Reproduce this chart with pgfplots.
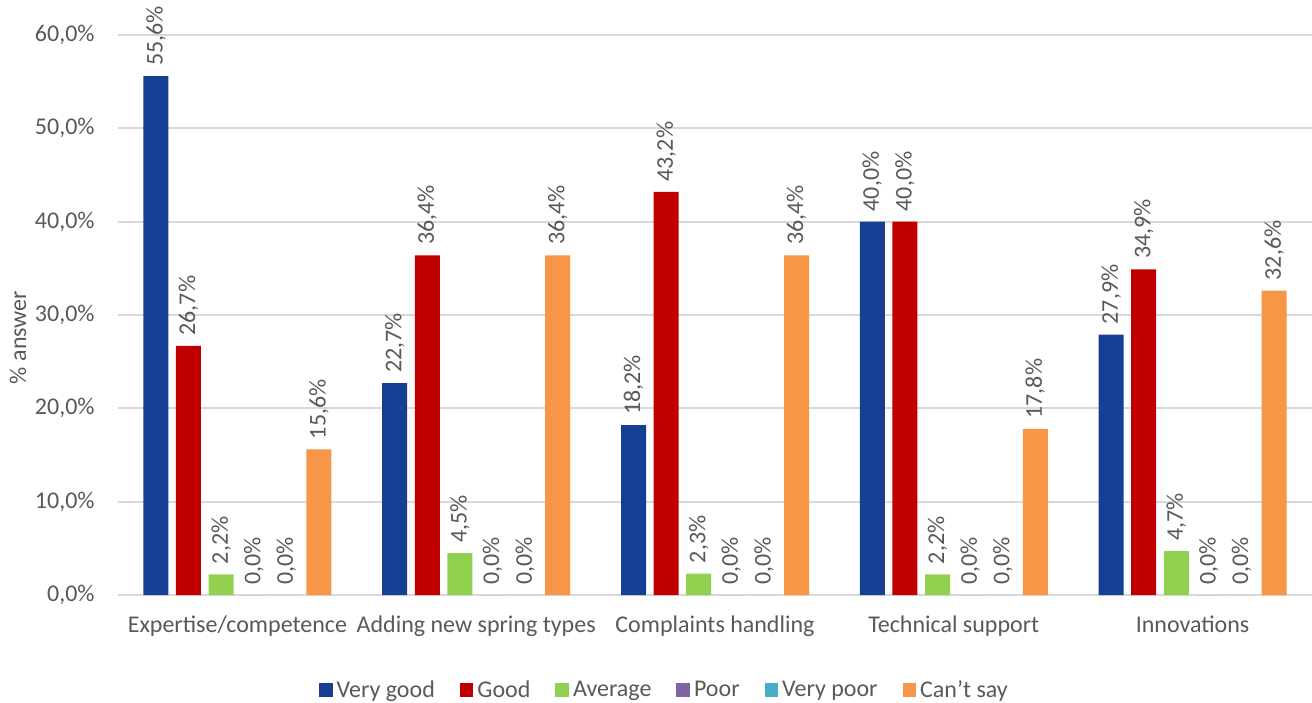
\documentclass[border=0pt]{standalone}
\usepackage{fontspec}
\setmainfont{Carlito}
\usepackage{pgfplots}
\pgfplotsset{compat=1.18}

\definecolor{txt}{HTML}{595959}
\definecolor{gridc}{HTML}{D9D9D9}
\definecolor{vgood}{RGB}{21,63,147}
\definecolor{good}{RGB}{192,0,0}
\definecolor{avg}{RGB}{146,208,80}
\definecolor{poor}{RGB}{128,100,162}
\definecolor{vpoor}{RGB}{75,172,198}
\definecolor{cant}{RGB}{247,150,70}

\newcommand{\pct}[1]{\pgfmathprintnumber[fixed,fixed zerofill,precision=1,use comma]{#1}\%}

\begin{document}
\begin{tikzpicture}
\begin{axis}[
  scale only axis, width=597bp, height=280bp,
  /pgf/number format/assume math mode=true,
  ybar=3.8bp, bar width=12.5bp,
  xmin=-0.5, xmax=4.5, ymin=0, ymax=60,
  xtick={0,...,4},
  xticklabels={Expertise/competence, Adding new spring types, Complaints handling, Technical support, Innovations},
  ytick={0,10,...,60},
  yticklabel={\pct{\tick}},
  ymajorgrids, grid style={draw=gridc, line width=1bp},
  axis line style={draw=none},
  major tick length=0pt,
  clip=false,
  tick label style={font=\fontsize{12bp}{14bp}\selectfont, text=txt},
  xticklabel style={anchor=base, yshift=-18.5bp},
  yticklabel style={anchor=east, inner sep=0pt, xshift=-11.5bp},
  ylabel={\% answer},
  ylabel style={at={(-0.0838,0.46)}, anchor=center, font=\fontsize{12bp}{14bp}\selectfont, text=txt},
  nodes near coords={\pct{\pgfplotspointmeta}},
  every node near coord/.append style={rotate=90, anchor=west, inner sep=5bp, font=\fontsize{12bp}{14bp}\selectfont, text=txt},
  legend columns=6,
  legend style={at={(0.4585,-0.17)}, anchor=center, draw=none, fill=none,
    font=\fontsize{12bp}{14bp}\selectfont, text=txt,
    /tikz/every even column/.append style={column sep=10.5bp}},
  legend image code/.code={\fill[#1] (0bp,-3.4bp) rectangle (6.8bp,3.4bp);},
]
\addplot[fill=vgood, draw=none] coordinates {(0,55.6) (1,22.7) (2,18.2) (3,40.0) (4,27.9)};
\addplot[fill=good, draw=none] coordinates {(0,26.7) (1,36.4) (2,43.2) (3,40.0) (4,34.9)};
\addplot[fill=avg, draw=none] coordinates {(0,2.2) (1,4.5) (2,2.3) (3,2.2) (4,4.7)};
\addplot[fill=poor, draw=none] coordinates {(0,0) (1,0) (2,0) (3,0) (4,0)};
\addplot[fill=vpoor, draw=none] coordinates {(0,0) (1,0) (2,0) (3,0) (4,0)};
\addplot[fill=cant, draw=none] coordinates {(0,15.6) (1,36.4) (2,36.4) (3,17.8) (4,32.6)};
\legend{Very good, Good, Average, Poor, Very poor, Can’t say}
\end{axis}
\pgfresetboundingbox
\path (-59bp,-54bp) rectangle (597bp,297.5bp);
\end{tikzpicture}
\end{document}
